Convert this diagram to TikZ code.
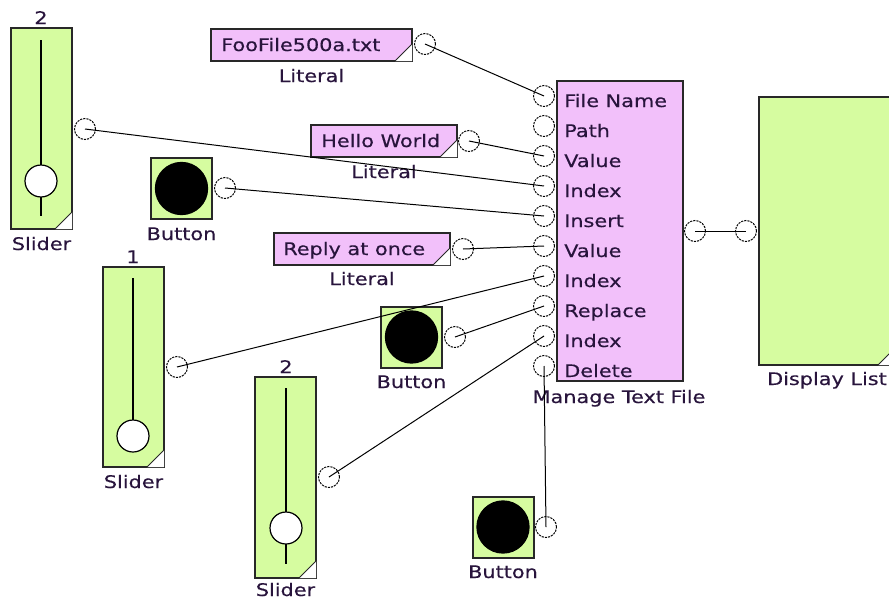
\documentclass[tikz,border=0pt]{standalone}
\usepackage{fontspec}
\setmainfont[FakeStretch=1.2,FakeBold=0.35]{DejaVu Sans}
\definecolor{gfill}{RGB}{214,252,160}
\definecolor{pfill}{RGB}{242,192,250}
\definecolor{edge}{RGB}{40,40,40}
\definecolor{txt}{RGB}{40,20,60}
\tikzset{
 box/.style={draw=edge, line width=1.5pt, rectangle, inner sep=0pt},
 gbox/.style={box, fill=gfill},
 pbox/.style={box, fill=pfill},
 port/.style={circle, draw=black, line width=0.75pt, dash pattern=on 1.6pt off 0.8pt, minimum size=15.75pt, inner sep=0pt},
 wire/.style={draw=black, line width=0.75pt},
 lbl/.style={inner sep=0pt, text=txt, font=\fontsize{13pt}{15pt}\selectfont, anchor=base},
 intxt/.style={lbl, anchor=base west},
 knob/.style={circle, fill=white, draw=black, line width=0.9pt, minimum size=24pt, inner sep=0pt},
 track/.style={draw=black, line width=1.2pt},
 dotc/.style={circle, fill=black, minimum size=40pt, inner sep=0pt},
 tri/.style={fill=white},
 hyp/.style={draw=edge, line width=0.6pt}
}
\newcommand\cornertri[1]{%
 \fill[tri] ([shift={(-13.5pt,0.75pt)}]#1.south east) -- ([shift={(-0.75pt,0.75pt)}]#1.south east) -- ([shift={(-0.75pt,13.5pt)}]#1.south east) -- cycle;
 \draw[hyp] ([shift={(-13.5pt,0.75pt)}]#1.south east) -- ([shift={(-0.75pt,13.5pt)}]#1.south east);}
\begin{document}
\begin{tikzpicture}[x=0.75pt,y=-0.75pt]
\path[use as bounding box] (0,0) rectangle (889,600);
\clip (0,0) rectangle (889,600);

% boxes
\node[gbox, minimum width=45.75pt, minimum height=150.75pt] (sA) at (41.5,128.5) {};
\node[gbox, minimum width=45.75pt, minimum height=150pt] (sB) at (133.5,367) {};
\node[gbox, minimum width=45.75pt, minimum height=150.75pt] (sC) at (285.5,477.5) {};
\node[gbox, minimum width=45.75pt, minimum height=45.75pt] (bA) at (181.5,188.5) {};
\node[gbox, minimum width=45.75pt, minimum height=45.75pt] (bB) at (411.5,337) {};
\node[gbox, minimum width=45.75pt, minimum height=45.75pt] (bC) at (503,527) {};
\node[pbox, minimum width=150.75pt, minimum height=24pt] (lA) at (311.5,45) {};
\node[pbox, minimum width=109.5pt, minimum height=24pt] (lB) at (384,141) {};
\node[pbox, minimum width=132pt, minimum height=24pt] (lC) at (362,249) {};
\node[pbox, minimum width=94.5pt, minimum height=225pt] (mtf) at (620,231) {};
\node[gbox, minimum width=102pt, minimum height=201pt] (dl) at (827,231) {};

\cornertri{sA}\cornertri{sB}\cornertri{sC}
\cornertri{lA}\cornertri{lB}\cornertri{lC}\cornertri{dl}

% slider internals
\draw[track] (41,40) -- (41,216);
\node[knob] (kA) at (41,181) {};
\draw[track] (133,278) -- (133,436);
\node[knob] (kB) at (133,436) {};
\draw[track] (286,388) -- (286,564);
\node[knob] (kC) at (286,528) {};

% buttons
\node[dotc] (dA) at (181.5,188.5) {};
\node[dotc] (dB) at (411.5,337) {};
\node[dotc] (dC) at (503,527) {};

% texts
\node[lbl] (tA) at (41,24) {2};
\node[lbl] (tB) at (133,263) {1};
\node[lbl] (tC) at (286,373) {2};
\node[lbl] (nsA) at (41.5,250) {Slider};
\node[lbl] (nsB) at (133.5,488) {Slider};
\node[lbl] (nsC) at (285.5,596) {Slider};
\node[lbl] (nbA) at (181.5,240) {Button};
\node[lbl] (nbB) at (411.5,388) {Button};
\node[lbl] (nbC) at (503,578) {Button};
\node[lbl] (nlA) at (311.5,82) {Literal};
\node[lbl] (nlB) at (384,178) {Literal};
\node[lbl] (nlC) at (362,285) {Literal};
\node[lbl] (nmtf) at (619,403) {Manage Text File};
\node[lbl] (ndl) at (827,385) {Display List};
\node[intxt] (vA) at (221,51) {FooFile500a.txt};
\node[intxt] (vB) at (321,147) {Hello World};
\node[intxt] (vC) at (283,255) {Reply at once};

\foreach \t [count=\k from 0] in {File Name,Path,Value,Index,Insert,Value,Index,Replace,Index,Delete}
  \node[intxt] (it\k) at (564,{96+30*\k+11}) {\t};

% ports
\foreach \k in {1,...,10}
  \node[port] (m\k) at (544,{96+30*(\k-1)}) {};
\node[port] (pLA) at (425,44) {};
\node[port] (pLB) at (469,141) {};
\node[port] (pLC) at (463,249) {};
\node[port] (pSA) at (85,129) {};
\node[port] (pSB) at (177,367) {};
\node[port] (pSC) at (329,477) {};
\node[port] (pBA) at (225,188) {};
\node[port] (pBB) at (455,337) {};
\node[port] (pBC) at (546,527) {};
\node[port] (pOut) at (695,231) {};
\node[port] (pDin) at (746,231) {};

% wires
\draw[wire] (pLA.center) -- (m1.center);
\draw[wire] (pSA.center) -- (m4.center);
\draw[wire] (pLB.center) -- (m3.center);
\draw[wire] (pBA.center) -- (m5.center);
\draw[wire] (pLC.center) -- (m6.center);
\draw[wire] (pSB.center) -- (m7.center);
\draw[wire] (pBB.center) -- (m8.center);
\draw[wire] (pSC.center) -- (m9.center);
\draw[wire] (pBC.center) -- (m10.center);
\draw[wire] (pOut.center) -- (pDin.center);
\end{tikzpicture}
\end{document}
